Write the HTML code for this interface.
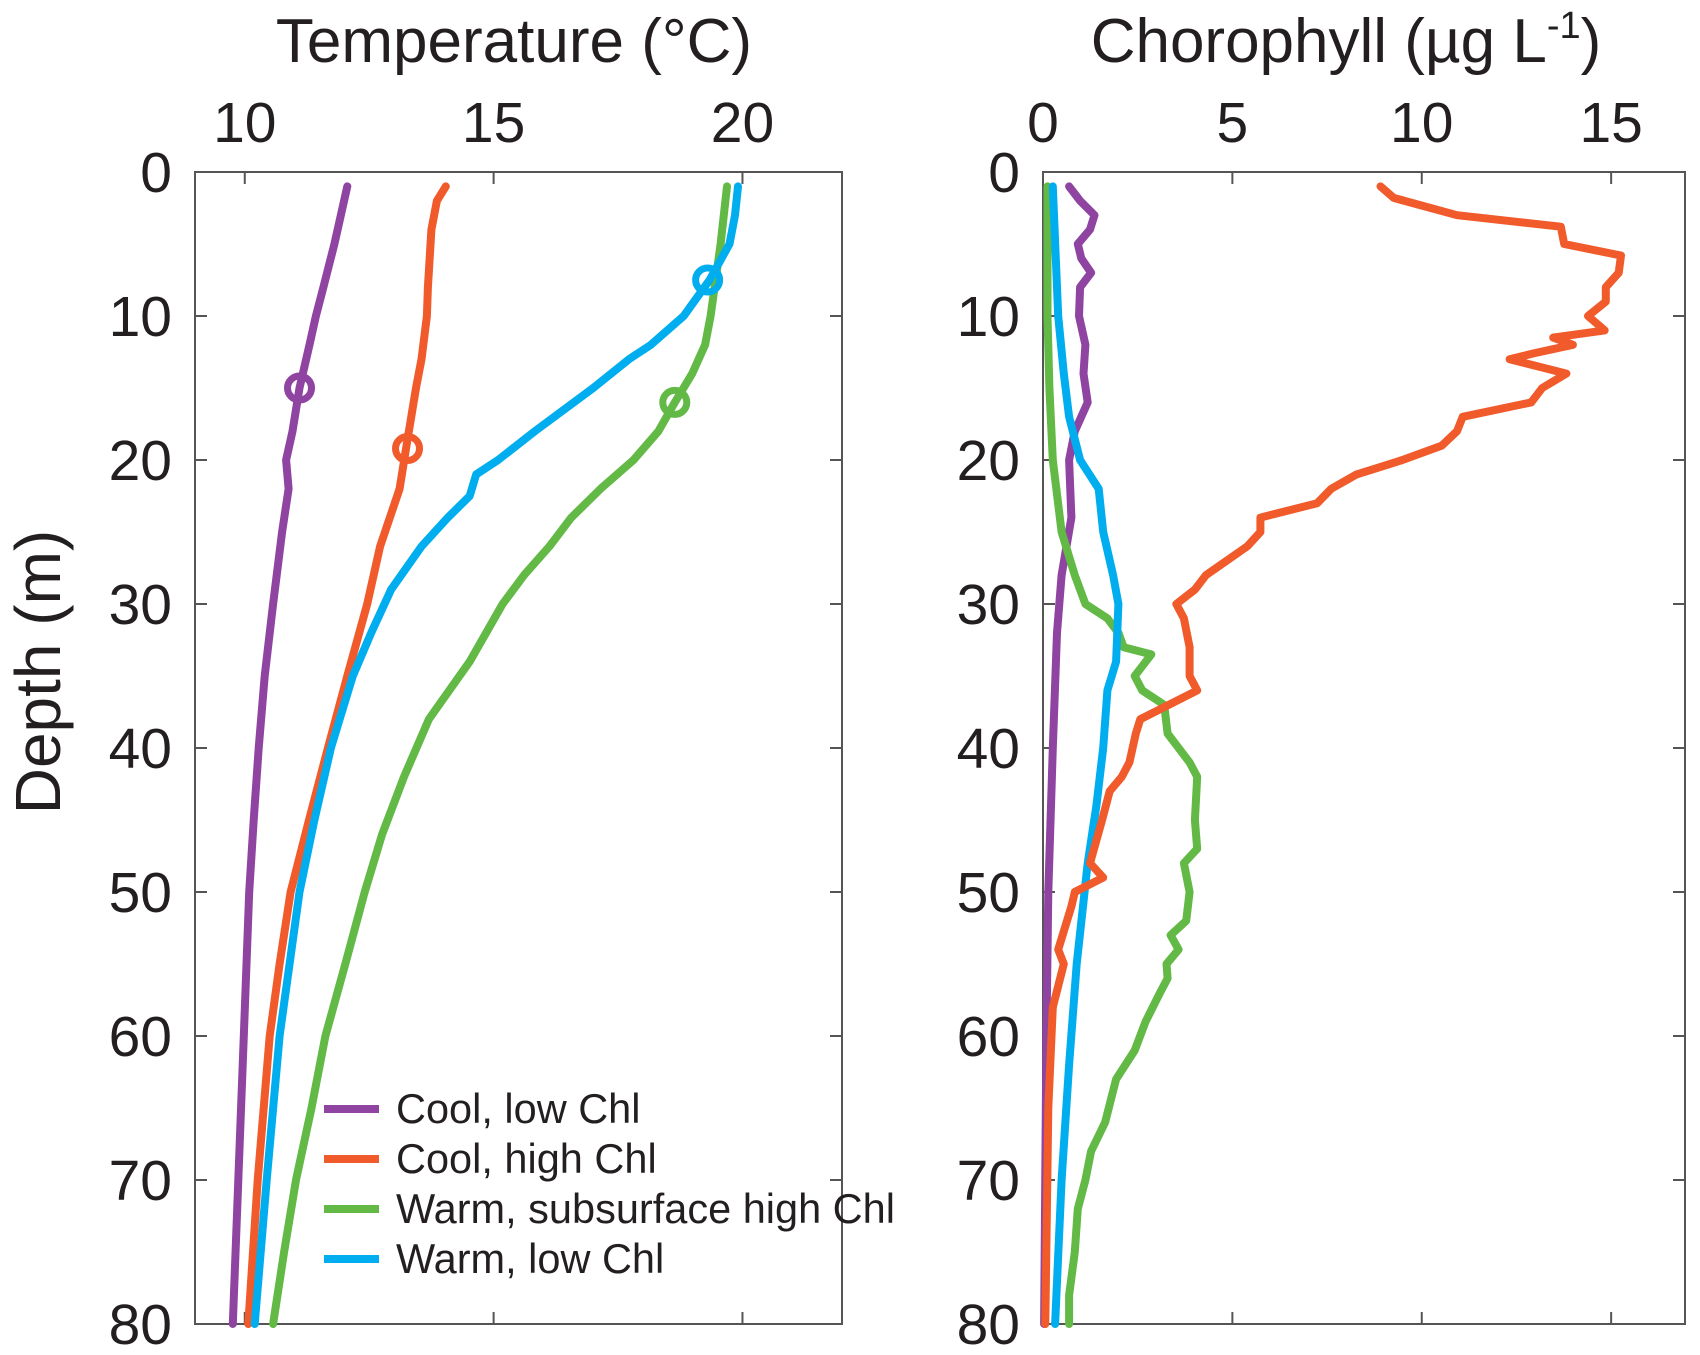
<!DOCTYPE html>
<html><head><meta charset="utf-8"><style>
html,body{margin:0;padding:0;background:#fff;}
svg{display:block;font-family:"Liberation Sans",Arial,sans-serif;}
</style></head><body>
<svg id="chart" width="1700" height="1355" viewBox="0 0 1700 1355" xmlns="http://www.w3.org/2000/svg"></svg>
<script>
const depthTicks=[0,10,20,30,40,50,60,70,80];
const tempTicks=[10,15,20];
const chlTicks=[0,5,10,15];
const seriesNames=["Cool, low Chl","Cool, high Chl","Warm, subsurface high Chl","Warm, low Chl"];
const seriesColors=["#8e44a0","#f15a2b","#62b946","#00aeef"];
const tempPurpleD=[1,5,8,10,12,15,18,20,22,25,30,35,40,45,50,60,70,80];
const tempPurpleV=[12.06,11.8,11.58,11.43,11.3,11.1,10.96,10.83,10.88,10.75,10.57,10.4,10.28,10.18,10.09,9.98,9.87,9.76];
const tempOrangeD=[1,2,4,8,10,13,15,19,22,26,30,35,40,45,50,55,60,70,80];
const tempOrangeV=[14.04,13.86,13.75,13.68,13.66,13.55,13.44,13.25,13.11,12.72,12.46,12.06,11.67,11.29,10.92,10.7,10.5,10.26,10.07];
const tempGreenD=[1,5,10,12,14,16,18,20,22,24,26,28,30,34,38,42,46,50,55,60,65,70,75,80];
const tempGreenV=[19.69,19.56,19.36,19.25,18.99,18.64,18.31,17.81,17.15,16.56,16.12,15.61,15.18,14.52,13.7,13.2,12.76,12.41,12.02,11.62,11.34,11.03,10.79,10.57];
const tempBlueD=[1,3,5,7.5,10,12,13,15,18,20,21,22.5,24,26,29,32,35,40,45,50,60,70,80];
const tempBlueV=[19.91,19.85,19.74,19.34,18.82,18.16,17.72,17.0,15.83,15.09,14.65,14.52,14.08,13.55,12.94,12.54,12.17,11.73,11.4,11.1,10.7,10.44,10.2];
const mldD=[15,19.2,16,7.5];
const mldT=[11.1,13.27,18.64,19.3];
const chlPurpleD=[1,2,3,4,5,6,7,8,10,12,14,16,18,20,24,28,32,40,50,60,80];
const chlPurpleV=[0.69,0.98,1.36,1.24,0.92,1.01,1.27,0.98,0.95,1.12,1.07,1.18,0.84,0.69,0.75,0.49,0.37,0.26,0.14,0.09,0.03];
const chlOrangeD=[1,1.8,3,3.8,5,5.8,7,8,9,10,11,11.5,12,12.6,13,14,15,16,17,18,19,20,21,22,23,24,25,26,28,29,30,31,33,35,36,38,39,41,42,43,45,48,49,50,51,54,55,58,65,80];
const chlOrangeV=[8.91,9.26,10.93,13.67,13.76,15.26,15.2,14.86,14.86,14.39,14.83,13.47,13.99,12.95,12.32,13.82,13.18,12.89,11.08,10.93,10.53,9.49,8.28,7.61,7.24,5.74,5.74,5.39,4.3,4.01,3.52,3.72,3.87,3.87,4.07,2.57,2.45,2.28,2.08,1.76,1.56,1.24,1.59,0.84,0.75,0.4,0.55,0.26,0.14,0.06];
const chlGreenD=[1,10,15,20,25,28,30,31,32,33,33.5,35,36,37,39,41,42,45,47,48,50,52,53,54,55,56,57,59,61,63,66,68,70,72,75,78,80];
const chlGreenV=[0.12,0.12,0.17,0.26,0.49,0.84,1.12,1.7,1.99,2.13,2.86,2.42,2.62,3.2,3.29,3.87,4.07,4.01,4.07,3.72,3.87,3.78,3.37,3.58,3.26,3.29,3.09,2.71,2.42,1.93,1.64,1.27,1.12,0.92,0.84,0.69,0.69];
const chlBlueD=[1,10,14,17,20,22,25,28,30,34,36,40,44,48,55,62,70,80];
const chlBlueV=[0.26,0.4,0.55,0.69,0.98,1.47,1.59,1.85,1.99,1.93,1.7,1.59,1.41,1.18,0.89,0.69,0.49,0.32];

const NS="http://www.w3.org/2000/svg";
const svg=document.getElementById('chart');
function mk(tag,attrs,parent){const e=document.createElementNS(NS,tag);for(const k in attrs)e.setAttribute(k,attrs[k]);(parent||svg).appendChild(e);return e;}
const Y0=172,Y1=1324;
function yScale(d){return Y0+(d/80)*(Y1-Y0);}
const tp={x0:195,x1:842,min:9,max:22};
const cp={x0:1043,x1:1685,min:0,max:16.95};
function xT(v){return tp.x0+(v-tp.min)/(tp.max-tp.min)*(tp.x1-tp.x0);}
function xC(v){return cp.x0+(v-cp.min)/(cp.max-cp.min)*(cp.x1-cp.x0);}

function drawAxes(p,xf,ticks,name){
  const g=mk('g',{});
  
  
  const r=mk('rect',{x:p.x0,y:Y0,width:p.x1-p.x0,height:Y1-Y0,fill:'none',stroke:'#555','stroke-width':2},g);
  
  
  ticks.forEach(t=>{
    const x=xf(t);
    mk('line',{x1:x,y1:Y0,x2:x,y2:Y0+12,stroke:'#555','stroke-width':2},g);
    mk('line',{x1:x,y1:Y1,x2:x,y2:Y1-12,stroke:'#555','stroke-width':2},g);
    const tx=mk('text',{x:x,y:Y0-30,'text-anchor':'middle','font-size':57,fill:'#231f20'},g);
    tx.textContent=t;
    
    
  });
  depthTicks.forEach(d=>{
    const y=yScale(d);
    mk('line',{x1:p.x0,y1:y,x2:p.x0+12,y2:y,stroke:'#555','stroke-width':2},g);
    mk('line',{x1:p.x1,y1:y,x2:p.x1-12,y2:y,stroke:'#555','stroke-width':2},g);
    const tx=mk('text',{x:p.x0-23,y:y+20,'text-anchor':'end','font-size':57,fill:'#231f20'},g);
    tx.textContent=d;
    
    
  });
}
drawAxes(tp,xT,tempTicks,'temperature');
drawAxes(cp,xC,chlTicks,'chlorophyll');

function line(ds,vs,xf,color,name){
  const pts=ds.map((d,i)=>xf(vs[i]).toFixed(1)+','+yScale(d).toFixed(1)).join(' ');
  const pl=mk('polyline',{points:pts,fill:'none',stroke:color,'stroke-width':8,'stroke-linejoin':'round','stroke-linecap':'round'});
  
  
}
line(tempPurpleD,tempPurpleV,xT,seriesColors[0],'temp-line-cool-low-chl');
line(tempOrangeD,tempOrangeV,xT,seriesColors[1],'temp-line-cool-high-chl');
line(tempGreenD,tempGreenV,xT,seriesColors[2],'temp-line-warm-subsurface');
line(tempBlueD,tempBlueV,xT,seriesColors[3],'temp-line-warm-low-chl');
mldD.forEach((d,i)=>{
  const c=mk('circle',{cx:xT(mldT[i]),cy:yScale(d),r:12,fill:'none',stroke:seriesColors[i],'stroke-width':7});
  
  
});
line(chlPurpleD,chlPurpleV,xC,seriesColors[0],'chl-line-cool-low-chl');
line(chlGreenD,chlGreenV,xC,seriesColors[2],'chl-line-warm-subsurface');
line(chlBlueD,chlBlueV,xC,seriesColors[3],'chl-line-warm-low-chl');
line(chlOrangeD,chlOrangeV,xC,seriesColors[1],'chl-line-cool-high-chl');

const legY=[1109,1159,1209,1259];
seriesNames.forEach((n,i)=>{
  const g=mk('g',{});
  
  
  mk('line',{x1:324,y1:legY[i],x2:379,y2:legY[i],stroke:seriesColors[i],'stroke-width':8},g);
  const t=mk('text',{x:396,y:legY[i]+14,'font-size':41.5,fill:'#231f20'},g);
  t.textContent=n;
});

const t1=mk('text',{x:514,y:62,'text-anchor':'middle','font-size':62,fill:'#231f20'});
t1.textContent='Temperature (°C)';


const t2=mk('text',{x:1346,y:62,'text-anchor':'middle','font-size':62,fill:'#231f20'});
t2.innerHTML='Chorophyll (µg L<tspan font-size="38" dy="-24">-1</tspan><tspan dy="24">)</tspan>';


const t3=mk('text',{x:0,y:0,'text-anchor':'middle','font-size':64,fill:'#231f20',transform:'translate(60,672) rotate(-90)'});
t3.textContent='Depth (m)';


</script>
</body></html>
